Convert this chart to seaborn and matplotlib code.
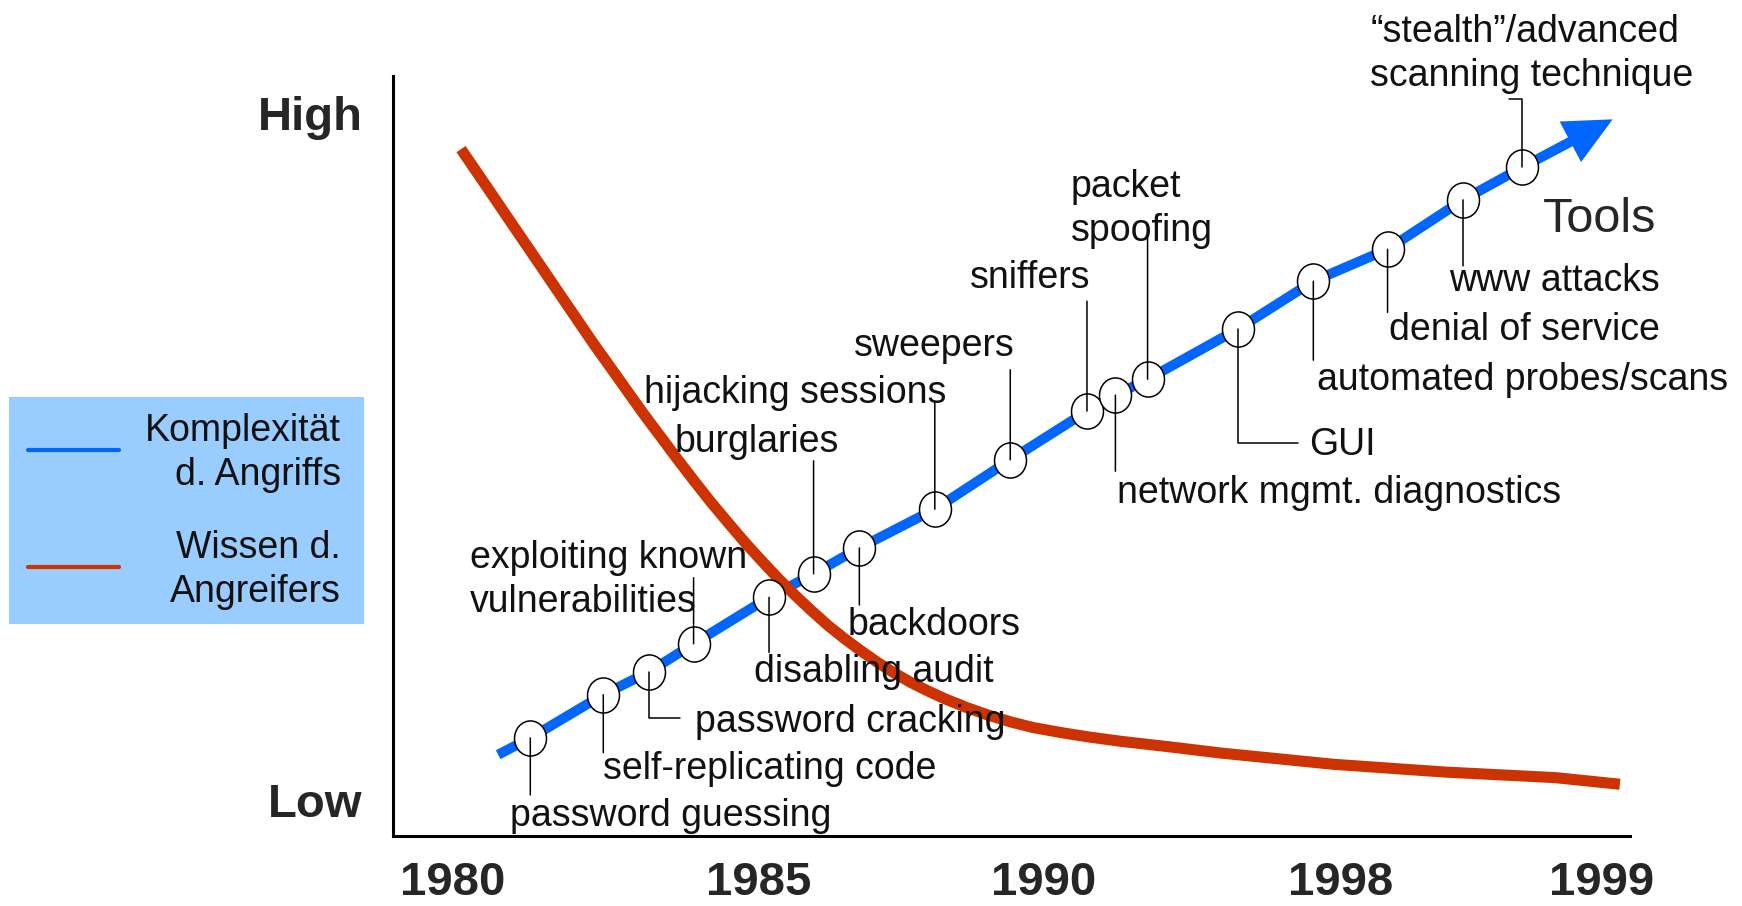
import matplotlib
matplotlib.use("Agg")
import matplotlib.pyplot as plt
import seaborn as sns
from matplotlib.patches import Rectangle
from matplotlib.lines import Line2D
from matplotlib.path import Path

# x: position along the time line (0..100), y: level low..high (0..100)
year_labels = ["1980", "1985", "1990", "1998", "1999"]
year_pos = [4.8, 29.6, 52.6, 76.6, 97.7]
level_labels = ["Low", "High"]
level_pos = [4.7, 95.1]

series_names = ["Komplexität\nd. Angriffs", "Wissen d.\nAngreifers"]

# attack tools along the complexity line
tools = [
    "password guessing", "self-replicating code", "password cracking",
    "exploiting known\nvulnerabilities", "disabling audit", "burglaries",
    "backdoors", "hijacking sessions", "sweepers", "sniffers",
    "network mgmt. diagnostics", "packet\nspoofing", "GUI",
    "automated probes/scans", "denial of service", "www attacks",
    "\u201cstealth\u201d/advanced\nscanning technique",
]
tool_x = [11.1, 17.0, 20.7, 24.3, 30.4, 34.0, 37.7, 43.8, 49.9, 56.1,
          58.4, 61.0, 68.3, 74.4, 80.4, 86.5, 91.3]
tool_y = [12.9, 18.6, 21.6, 25.3, 31.4, 34.5, 37.9, 43.0, 49.5, 55.9,
          58.0, 60.1, 66.7, 73.0, 77.2, 83.7, 88.0]
complexity_start = (8.5, 10.7)
complexity_tip = (98.6, 94.3)

# attacker knowledge curve
know_x = [5.50, 6.85, 8.20, 9.54, 10.89, 12.24, 13.58, 14.93, 16.28, 17.63,
          18.97, 20.32, 21.67, 23.01, 24.36, 25.71, 27.06, 28.40, 29.75,
          31.10, 32.45, 33.79, 35.14, 36.49, 37.83, 39.18, 40.53, 41.87,
          43.22, 44.57, 46.37, 48.16, 49.96, 51.75, 54.00, 56.25, 58.94,
          62.53, 67.02, 71.51, 76.00, 80.49, 84.99, 89.48, 93.97, 99.18]
know_y = [90.38, 87.16, 83.94, 80.72, 77.50, 74.28, 71.06, 67.84, 64.62,
          61.55, 58.48, 55.40, 52.47, 49.55, 46.69, 43.91, 41.28, 38.72,
          36.30, 33.96, 31.76, 29.71, 27.74, 25.98, 24.37, 22.83, 21.44,
          20.20, 19.10, 18.08, 16.91, 15.88, 15.00, 14.27, 13.61, 13.03,
          12.44, 11.78, 10.90, 10.17, 9.44, 8.93, 8.42, 8.05, 7.68, 6.81]

# label placement (pixel offsets from the marker): text offset, ha, leader
layout = [
    ((-20, -78), "left", ("v", -57)),
    ((0, -74), "left", ("v", -58)),
    ((46, -50), "left", ("elbow", 31, -46)),
    ((-224, 64), "left", ("v", 66)),
    ((-15, -75), "left", ("v", -55)),
    ((-57, 132), "center", ("v", 113)),
    ((-12, -77), "left", ("v", -57)),
    ((12, 116), "right", ("v", 108)),
    ((4, 114), "right", ("v", 90)),
    ((3, 133), "right", ("v", 110)),
    ((2, -98), "left", ("v", -76)),
    ((-77, 170), "left", ("v", 147)),
    ((71, -116), "left", ("elbow", 60, -114)),
    ((4, -99), "left", ("v", -79)),
    ((1, -81), "left", ("v", -63)),
    ((-14, -81), "left", ("v", -66)),
    ((-152, 113), "left", ("elbow", -13, 68)),
]

BLUE = "#0066FF"
RED = "#CC3300"
W, H = 1742, 906

sns.set_style("white")
plt.rcParams["font.family"] = ["Liberation Sans", "DejaVu Sans"]

fig = plt.figure(figsize=(W / 100, H / 100), dpi=100)
ax = fig.add_axes([393 / W, 1 - 836 / H, (1630 - 393) / W, (836 - 76) / H])

cx = [complexity_start[0]] + tool_x
cy = [complexity_start[1]] + tool_y
sns.lineplot(x=cx, y=cy, sort=False, color=BLUE, lw=7.2, ax=ax, zorder=2,
             solid_capstyle="butt")
ax.annotate("", xy=complexity_tip, xytext=(tool_x[-1], tool_y[-1]),
            arrowprops=dict(arrowstyle="simple,head_length=1.15,head_width=1.1,tail_width=0.24",
                            mutation_scale=30, color=BLUE, lw=0, shrinkA=0, shrinkB=0),
            zorder=2)

sns.lineplot(x=know_x, y=know_y, sort=False, color=RED, lw=8, ax=ax, zorder=3,
             solid_capstyle="butt", solid_joinstyle="round")

ell = Path(Path.unit_circle().vertices * [0.91, 1.0], Path.unit_circle().codes)
sns.scatterplot(x=tool_x, y=tool_y, marker=ell, s=640, facecolor="white",
                edgecolor="black", linewidth=1.1, ax=ax, zorder=4)

for name, x, y, (toff, ha, lead) in zip(tools, tool_x, tool_y, layout):
    if lead[0] == "v":
        start = (0, lead[1])
        cs = "arc3"
    else:
        start = (lead[1], lead[2])
        cs = "angle,angleA=0,angleB=90,rad=0"
    ax.annotate("", xy=(x, y), xytext=start, textcoords="offset pixels",
                arrowprops=dict(arrowstyle="-", lw=1.1, color="black",
                                shrinkA=0, shrinkB=0, connectionstyle=cs),
                zorder=5)
    ax.annotate(name, xy=(x, y), xytext=toff, textcoords="offset pixels",
                ha=ha, va="center", fontsize=27, color="#111111",
                linespacing=1.27, zorder=6, annotation_clip=False)

ax.text(97.5, 81.1, "Tools", fontsize=35, ha="center", va="center", zorder=6)

ax.set_xlim(0, 100)
ax.set_ylim(0, 100)
ax.set_xticks(year_pos, year_labels)
ax.set_yticks(level_pos, level_labels)
ax.tick_params(axis="x", length=0, pad=18, labelsize=34)
ax.tick_params(axis="y", length=0, pad=22, labelsize=34)
for t in ax.get_xticklabels() + ax.get_yticklabels():
    t.set_fontweight("bold")
for side in ["top", "right"]:
    ax.spines[side].set_visible(False)
for side in ["left", "bottom"]:
    ax.spines[side].set_linewidth(2.2)
    ax.spines[side].set_color("black")

# legend box on the left
fig.add_artist(Rectangle((9 / W, 1 - 624 / H), 355 / W, 227 / H,
                         transform=fig.transFigure, facecolor="#99CCFF",
                         edgecolor="none"))
for color, ly, ty, label in [(BLUE, 450, 453, series_names[0]),
                             (RED, 567, 570, series_names[1])]:
    fig.add_artist(Line2D([28 / W, 119 / W], [1 - ly / H] * 2,
                          transform=fig.transFigure, color=color, lw=3))
    fig.text(341 / W, 1 - ty / H, label, ha="right", va="center",
             multialignment="right", fontsize=27, color="#111111",
             linespacing=1.27)

fig.savefig("out.png", dpi=100)
